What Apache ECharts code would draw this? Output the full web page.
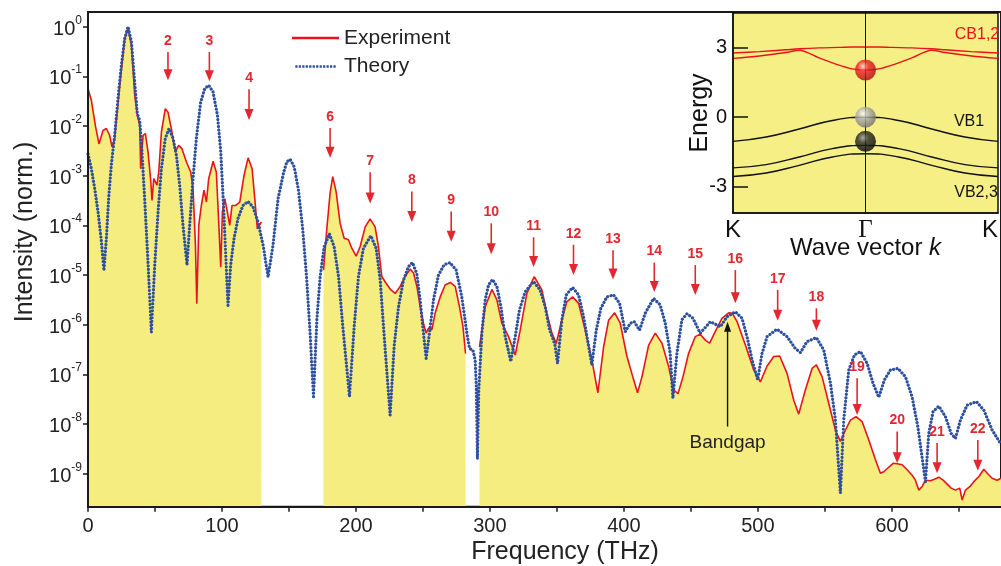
<!DOCTYPE html>
<html><head><meta charset="utf-8">
<script src="https://cdn.jsdelivr.net/npm/echarts@6/dist/echarts.min.js"></script>
<style>html,body{margin:0;padding:0;background:#fff}#c{width:1001px;height:566px}</style>
</head><body><div id="c"></div>
<script>
// ---------- DATA (frequency in THz, intensity as log10 of normalized intensity) ----------
const expSegA = [[0,-1.25],[2.5,-1.48],[5.5,-1.99],[8.2,-2.36],[11.2,-2.09],[13.7,-2.05],[16.2,-2.19],[17.9,-2.42],[19.9,-2.25],[23.7,-1.18],[27.4,-0.24],[29.9,-0.04],[32.4,-0.37],[34.9,-1.38],[36.8,-1.78],[38.6,-1.99],[39.3,-2.86],[41.1,-2.19],[42.8,-2.15],[44.8,-2.52],[46.8,-3.09],[47.8,-3.5],[49.1,-3.06],[51.5,-3.19],[52.8,-2.93],[54.8,-2.12],[57.7,-1.65],[59.7,-1.72],[62.2,-2.05],[65.2,-2.52],[67.7,-2.39],[70.2,-2.46],[73.4,-2.72],[76.7,-2.93],[78.4,-3.26],[80.2,-4.4],[81.2,-5.58],[82.7,-4.0],[84.6,-3.6],[86.6,-3.29],[88.4,-3.53],[90.1,-3.06],[93.4,-2.71],[95.8,-2.93],[97.8,-4.07],[99.1,-4.84],[100.3,-3.73],[102.1,-3.46],[104,-3.73],[105.8,-4.0],[107.5,-3.6],[110,-3.6],[113.3,-3.53],[116.5,-2.99],[119.5,-2.64],[122.5,-2.86],[124.5,-3.46],[126.4,-4.07],[127.9,-4.0],[129.4,-3.93]];
const expSegB = [[175.8,-4.9],[178.2,-4.09],[180.7,-3.35],[182.7,-3.02],[185.2,-3.32],[188.2,-3.96],[191.2,-4.26],[194.4,-4.29],[196.9,-4.46],[200.2,-4.62],[203.1,-4.43],[206.9,-4.03],[210.6,-3.87],[214.3,-4.03],[216.8,-4.43],[219.3,-5.03],[222.6,-5.17],[226.1,-5.3],[229.3,-5.37],[233,-5.23],[236.7,-5.03],[240.5,-4.88],[243,-4.96],[245.5,-5.23],[248,-5.64],[250.4,-5.97],[252.4,-6.17],[254.2,-6.07],[256.7,-6.1],[259.1,-5.77],[262.9,-5.44],[266.6,-5.2],[270.4,-5.15],[274.1,-5.23],[277.3,-5.64],[279.9,-6.04],[281.8,-6.58]];
const expSegC = [[292.2,-6.45],[296.5,-5.64],[301.5,-5.29],[305.2,-5.5],[308.9,-5.97],[313.9,-6.24],[318.9,-6.61],[322.6,-6.11],[327.6,-5.37],[333.1,-5.03],[338.8,-5.3],[342.5,-5.77],[346.3,-6.17],[349.5,-6.38],[353.7,-5.9],[357.4,-5.54],[361.7,-5.44],[366.2,-5.57],[371.1,-6.11],[376.1,-6.71],[380.6,-7.37],[384.9,-6.44],[388.6,-5.91],[393.1,-5.76],[397.3,-5.97],[402.3,-6.64],[407.3,-7.11],[410.2,-7.37],[413.5,-7.05],[418.5,-6.41],[423.4,-6.17],[428.4,-6.37],[433.4,-6.84],[437.1,-7.31],[440.4,-7.39],[444.1,-7.05],[448.3,-6.58],[453.3,-6.24],[457,-6.19],[460.8,-6.31],[464,-6.37],[468.2,-6.14],[473.2,-5.87],[478.2,-5.76],[481,-5.77],[484.5,-5.94],[490.7,-6.41],[496.9,-6.91],[501.9,-7.15],[506.9,-6.83],[511.9,-6.64],[516.3,-6.63],[521.8,-6.98],[526.8,-7.52],[530.5,-7.8],[535.5,-7.31],[540.5,-6.88],[543.7,-6.81],[548,-7.05],[552.9,-7.58],[557.9,-8.12],[561.6,-8.35],[565.4,-8.12],[569.1,-7.92],[573.3,-7.85],[577.8,-7.95],[582.8,-8.32],[587.8,-8.72],[591.5,-8.99],[594,-8.96],[597.7,-8.87],[601,-8.79],[604,-8.8],[607.7,-8.82],[611.4,-8.92],[615.2,-9.03],[617.6,-9.13],[620.1,-9.33],[622.6,-9.26],[625.1,-9.13],[628.8,-9.14],[631.8,-9.11],[635.1,-9.07],[638.3,-9.13],[641.3,-9.21],[644.3,-9.29],[647.5,-9.33],[650.7,-9.29],[652.5,-9.53],[655,-9.33],[658.2,-9.26],[661.2,-9.16],[664.9,-9.06],[668.7,-8.91],[671.2,-8.99],[674.9,-9.09],[678.6,-9.13],[681.6,-9.09]];
const theory = [[0,-2.56],[2.5,-2.86],[5,-3.26],[7.5,-3.73],[10,-4.33],[11.9,-4.91],[13.7,-4.27],[15.4,-3.46],[17.4,-2.79],[19.9,-2.19],[22.4,-1.45],[24.9,-0.78],[27.4,-0.24],[29.9,0],[32.4,-0.31],[34.8,-1.11],[36.8,-1.75],[38.6,-1.89],[40.3,-2.52],[42.3,-3.46],[44.8,-4.74],[47.3,-6.15],[49.8,-4.8],[52.3,-3.73],[54.8,-2.86],[57.7,-2.25],[60.5,-2.05],[63.5,-2.25],[66,-2.59],[68.4,-3.19],[70.9,-4.0],[73.9,-4.8],[75.9,-4.0],[78.4,-3.06],[80.9,-2.25],[84.1,-1.52],[87.1,-1.25],[90.1,-1.18],[93.3,-1.31],[96.6,-1.78],[99.1,-2.52],[100.8,-3.4],[102.5,-4.4],[104.5,-5.61],[106.5,-4.8],[109,-4.27],[112,-3.86],[115.7,-3.6],[119.5,-3.52],[123.2,-3.63],[126.9,-3.93],[130.7,-4.4],[134.4,-5.04],[138.1,-4.4],[141.9,-3.46],[145.9,-2.95],[148.4,-2.72],[150.9,-2.67],[153.9,-2.82],[157.1,-3.29],[160.3,-4.09],[163.3,-5.1],[165.8,-6.17],[168.3,-7.45],[170.8,-5.91],[173.3,-5.03],[176.3,-4.43],[180.2,-4.17],[183.7,-4.43],[187,-5.03],[190.2,-6.04],[195.2,-7.45],[198.7,-6.04],[201.9,-5.03],[205.6,-4.46],[211.1,-4.21],[215.1,-4.46],[218.1,-5.1],[221.1,-6.24],[225.5,-7.82],[228.5,-6.44],[231.8,-5.64],[235.5,-5.1],[239.2,-4.83],[242.2,-4.75],[245.4,-4.97],[247.9,-5.5],[250.4,-6.17],[252.4,-6.68],[254.9,-6.17],[257.9,-5.5],[261.6,-5.0],[265.9,-4.79],[270.3,-4.75],[274.8,-4.9],[279,-5.44],[282.8,-6.17],[284.8,-6.48],[287.3,-6.51],[289,-6.71],[289.8,-7.2],[290.7,-8.7],[291.7,-7.3],[294,-6.17],[296.5,-5.5],[299,-5.2],[302,-5.09],[305.2,-5.23],[308.2,-5.64],[311.4,-6.24],[315.6,-6.74],[318.9,-6.24],[322.1,-5.7],[326.3,-5.34],[332.6,-5.13],[337.5,-5.3],[341.3,-5.64],[344.5,-6.1],[347,-6.28],[348.5,-6.4],[350.5,-6.78],[353.7,-5.91],[357,-5.4],[361.7,-5.25],[366.2,-5.4],[369.9,-5.84],[372.9,-6.31],[376.1,-6.81],[379.4,-6.11],[382.8,-5.67],[387.3,-5.44],[392.3,-5.4],[396.8,-5.57],[401,-6.14],[404.8,-5.97],[407.7,-5.94],[411.7,-6.11],[415.9,-5.77],[422.2,-5.47],[427.1,-5.6],[430.9,-5.97],[434.6,-6.58],[436.6,-7.48],[439.6,-6.58],[443.3,-5.9],[447.1,-5.78],[451.6,-5.87],[457,-6.17],[464.5,-5.94],[472,-6.04],[477,-5.84],[483.2,-5.74],[488.2,-5.87],[491.9,-6.24],[495.7,-6.71],[499.9,-7.11],[503.1,-6.58],[506.9,-6.24],[514.3,-6.09],[521.8,-6.24],[528,-6.48],[531.8,-6.56],[536.7,-6.34],[543.7,-6.26],[549.2,-6.51],[554.2,-7.18],[557.9,-7.92],[561.6,-9.39],[564.1,-7.92],[567.9,-6.91],[572.1,-6.61],[576.6,-6.54],[581.6,-6.78],[586,-7.18],[590.3,-7.46],[594.5,-7.11],[599,-6.91],[604.7,-6.88],[610.2,-7.05],[615.1,-7.45],[619.4,-8.05],[625.1,-9.16],[627.6,-8.19],[630.8,-7.75],[635.1,-7.64],[640,-7.85],[644.3,-8.19],[647.5,-8.29],[651.2,-7.92],[656.2,-7.62],[663.2,-7.55],[668.7,-7.72],[674.9,-8.12],[681.1,-8.39]];
const expGaps = [130.5, 286];

// harmonic markers
const peakLabels = [2,3,4,6,7,8,9,10,11,12,13,14,15,16,17,18,19,20,21,22];
const peakFreq   = [59.7,90.6,120.2,180.7,210.6,241.7,271.1,301,332.6,362.4,391.9,422.7,453.3,483.2,514.8,543.7,574.1,604,633.8,664.2];
const arrowTop   = [-0.51,-0.51,-1.26,-2.04,-2.93,-3.32,-3.72,-3.96,-4.24,-4.39,-4.5,-4.75,-4.8,-4.9,-5.3,-5.67,-7.08,-8.15,-8.38,-8.32];
const arrowTip   = [-1.08,-1.10,-1.88,-2.64,-3.56,-3.93,-4.33,-4.58,-4.84,-5.0,-5.09,-5.34,-5.4,-5.57,-5.92,-6.12,-7.82,-8.79,-8.99,-8.94];
const bandgapMark = [477.4, -8.05, -5.94];

const xTicks = [0,50,100,150,200,250,300,350,400,450,500,550,600,650];
const xLabels = [0,100,200,300,400,500,600];
const yDecades = [-9,-8,-7,-6,-5,-4,-3,-2,-1,0];

// inset band structure
const bandK = [-1,-0.75,-0.5,-0.25,0,0.25,0.5,0.75,1];
const vb1 = [-1.04,-0.85,-0.51,-0.14,0,-0.14,-0.51,-0.85,-1.04];
const vb2 = [-2.18,-2.04,-1.71,-1.35,-1.21,-1.35,-1.71,-2.04,-2.18];
const vb3 = [-2.55,-2.4,-2.07,-1.71,-1.57,-1.71,-2.07,-2.4,-2.55];
const cbK = [-1,-0.8,-0.6,-0.5,-0.35,-0.2,-0.1,0,0.1,0.2,0.35,0.5,0.6,0.8,1];
const cbA = [2.76,2.82,2.9,2.94,2.98,3.0,3.02,3.02,3.02,3.0,2.98,2.94,2.9,2.82,2.76];
const cbB = [2.53,2.63,2.78,2.88,2.55,2.24,2.08,2.03,2.08,2.24,2.55,2.88,2.78,2.63,2.53];
const ballE = [2.03, 0, -1.04];
const insetTicks = [-3,0,3];

// ---------- CHART ----------
const FONT = "'Liberation Sans', Arial, sans-serif";
const RED = '#e8141c', ARED = '#e3262f', BLUE = '#2c4f9e', YEL = '#f5ed80', INK = '#222';
const chart = echarts.init(document.getElementById('c'));

const expData = [...expSegA, [expGaps[0], '-'], ...expSegB, [expGaps[1], '-'], ...expSegC];
const zip = (xs, ys) => xs.map((x, i) => [x, ys[i]]);

function ball(c0, c1, c2) {
  return {type:'radial', x:0.38, y:0.33, r:0.7, colorStops:[{offset:0,color:c0},{offset:0.35,color:c1},{offset:1,color:c2}]};
}
let dotPath = 'path://';
for (let i = 0; i < 12; i++) dotPath += 'M' + (i * 4) + ',0h2.6v3h-2.6z';

const option = {
  animation: false,
  textStyle: {fontFamily: FONT},
  legend: {
    data: [{name: 'Experiment', icon: 'rect'}, {name: 'Theory', icon: dotPath}],
    orient: 'vertical', left: 287, top: 22,
    itemWidth: 47, itemHeight: 2.6, itemGap: 6.5,
    textStyle: {fontSize: 21, color: INK, fontFamily: FONT, lineHeight: 22}
  },
  grid: [
    {left: 88, right: 0, top: 12, height: 494.7, show: true, borderColor: '#1a1a1a', borderWidth: 2, backgroundColor: 'transparent'},
    {left: 733, top: 13, width: 268, height: 200, show: true, backgroundColor: '#f6ef85', borderColor: '#111', borderWidth: 1.5}
  ],
  xAxis: [
    {type: 'value', gridIndex: 0, min: 0, max: 681.5, z: 10,
     axisLine: {onZero: false, lineStyle: {color: '#1a1a1a', width: 2}},
     axisTick: {customValues: xTicks, length: 5, lineStyle: {color: '#1a1a1a', width: 1.5}},
     axisLabel: {customValues: xLabels, fontSize: 20, color: INK, margin: 10, fontFamily: FONT},
     splitLine: {show: false}},
    {type: 'value', gridIndex: 1, min: -1, max: 1, z: 10,
     axisLine: {onZero: false, lineStyle: {color: '#111', width: 1.5}},
     axisTick: {show: false},
     axisLabel: {customValues: [-1, 0, 1], fontSize: 24, color: '#111', margin: 5, alignMaxLabel: 'right',
       formatter: v => v === 0 ? '{g|Γ}' : 'K', rich: {g: {fontFamily: "'Liberation Serif', 'DejaVu Serif', serif", fontSize: 25, color: '#111'}}},
     splitLine: {show: false},
     name: '{n|Wave vector }{i|k}', nameLocation: 'middle', nameGap: 23, nameMoveOverlap: false,
     nameTextStyle: {rich: {n: {fontSize: 24, color: '#111', fontFamily: FONT}, i: {fontSize: 24, color: '#111', fontStyle: 'italic', fontFamily: FONT}}}}
  ],
  yAxis: [
    {type: 'value', gridIndex: 0, min: -9.664, max: 0.296, z: 10,
     axisLine: {onZero: false, lineStyle: {color: '#1a1a1a', width: 2}},
     axisTick: {customValues: yDecades, length: 5, lineStyle: {color: '#1a1a1a', width: 1.5}},
     axisLabel: {customValues: yDecades, margin: 6,
       formatter: v => '{b|10}{s|' + Math.round(v) + '}',
       rich: {b: {fontSize: 20, color: INK, fontFamily: FONT, padding: [5, 0, 0, 0]}, s: {fontSize: 12, color: INK, fontFamily: FONT, verticalAlign: 'top'}}},
     splitLine: {show: false}},
    {type: 'value', gridIndex: 1, min: -4.12, max: 4.48, z: 10,
     axisLine: {onZero: false, lineStyle: {color: '#111', width: 1.5}},
     axisTick: {customValues: insetTicks, inside: true, length: 15, lineStyle: {color: '#111', width: 1.5}},
     axisLabel: {customValues: insetTicks, fontSize: 20, color: '#111', margin: 6, fontFamily: FONT},
     splitLine: {show: false},
     name: 'Energy', nameLocation: 'middle', nameGap: 20, nameRotate: 90, nameMoveOverlap: false,
     nameTextStyle: {fontSize: 25, color: '#111', fontFamily: FONT}}
  ],
  series: [
    {name: 'Experiment', type: 'line', xAxisIndex: 0, yAxisIndex: 0, data: expData, symbol: 'none', connectNulls: false,
     lineStyle: {color: RED, width: 1.6}, itemStyle: {color: RED},
     areaStyle: {color: YEL, opacity: 1, origin: 'start'}, z: 2},
    {name: 'Theory', type: 'line', xAxisIndex: 0, yAxisIndex: 0, data: theory, symbol: 'none',
     lineStyle: {color: BLUE, width: 3.2, type: [0.01, 3.5], cap: 'round'}, itemStyle: {color: BLUE}, z: 3},
    {type: 'custom', coordinateSystem: 'cartesian2d', xAxisIndex: 0, yAxisIndex: 0, z: 5, silent: true,
     data: peakLabels.map((n, i) => [peakFreq[i], arrowTop[i], arrowTip[i], n]),
     renderItem: (params, api) => {
       const a = api.coord([api.value(0), api.value(1)]);
       const b = api.coord([api.value(0), api.value(2)]);
       const x = a[0];
       return {type: 'group', children: [
         {type: 'line', shape: {x1: x, y1: a[1], x2: x, y2: b[1] - 8}, style: {stroke: ARED, lineWidth: 1.6}},
         {type: 'polygon', shape: {points: [[x - 4.5, b[1] - 11], [x + 4.5, b[1] - 11], [x, b[1]]]}, style: {fill: ARED}},
         {type: 'text', x: x, y: a[1] - 4, style: {text: String(api.value(3)), fill: ARED, font: "bold 14px 'Liberation Sans', Arial, sans-serif", align: 'center', verticalAlign: 'bottom'}}
       ]};
     }},
    {type: 'custom', coordinateSystem: 'cartesian2d', xAxisIndex: 0, yAxisIndex: 0, z: 5, silent: true,
     data: [bandgapMark],
     renderItem: (params, api) => {
       const a = api.coord([api.value(0), api.value(1)]);
       const b = api.coord([api.value(0), api.value(2)]);
       const x = a[0];
       return {type: 'group', children: [
         {type: 'line', shape: {x1: x, y1: a[1], x2: x, y2: b[1] + 8}, style: {stroke: '#111', lineWidth: 1.4}},
         {type: 'polygon', shape: {points: [[x - 3.5, b[1] + 10], [x + 3.5, b[1] + 10], [x, b[1]]]}, style: {fill: '#111'}},
         {type: 'text', x: x, y: a[1] + 16, style: {text: 'Bandgap', fill: INK, font: "19px 'Liberation Sans', Arial, sans-serif", align: 'center', verticalAlign: 'middle'}}
       ]};
     }},
    {type: 'line', xAxisIndex: 1, yAxisIndex: 1, data: zip(cbK, cbA), symbol: 'none', smooth: 0.3, lineStyle: {color: RED, width: 1.4}, z: 3,
     markLine: {silent: true, symbol: 'none', label: {show: false}, lineStyle: {color: '#111', width: 1, type: 'solid'}, data: [{xAxis: 0}]}},
    {type: 'line', xAxisIndex: 1, yAxisIndex: 1, data: zip(cbK, cbB), symbol: 'none', smooth: 0.3, lineStyle: {color: RED, width: 1.4}, z: 3},
    {type: 'line', xAxisIndex: 1, yAxisIndex: 1, data: zip(bandK, vb1), symbol: 'none', smooth: true, lineStyle: {color: '#111', width: 1.4}, z: 3},
    {type: 'line', xAxisIndex: 1, yAxisIndex: 1, data: zip(bandK, vb2), symbol: 'none', smooth: true, lineStyle: {color: '#111', width: 1.4}, z: 3},
    {type: 'line', xAxisIndex: 1, yAxisIndex: 1, data: zip(bandK, vb3), symbol: 'none', smooth: true, lineStyle: {color: '#111', width: 1.4}, z: 3},
    {type: 'scatter', xAxisIndex: 1, yAxisIndex: 1, symbolSize: 21, z: 6, silent: true,
     data: [
       {value: [0, ballE[0]], itemStyle: {color: ball('#ffd0d0', '#f0222a', '#a8060c')}},
       {value: [0, ballE[1]], itemStyle: {color: ball('#ffffff', '#b4b4b4', '#6a6a6a')}},
       {value: [0, ballE[2]], itemStyle: {color: ball('#9a9a9a', '#2a2a2a', '#000000')}}
     ]}
  ],
  graphic: [
    {type: 'text', x: 565, y: 552, z: 100, style: {text: 'Frequency (THz)', font: "25px 'Liberation Sans', Arial, sans-serif", fill: INK, align: 'center', verticalAlign: 'middle'}},
    {type: 'text', x: 25, y: 232, rotation: Math.PI / 2, z: 100, style: {text: 'Intensity (norm.)', font: "25px 'Liberation Sans', Arial, sans-serif", fill: INK, align: 'center', verticalAlign: 'middle'}},
    {type: 'text', x: 977, y: 35, z: 100, style: {text: 'CB1,2', font: "16px 'Liberation Sans', Arial, sans-serif", fill: RED, align: 'center', verticalAlign: 'middle'}},
    {type: 'text', x: 969, y: 122, z: 100, style: {text: 'VB1', font: "16px 'Liberation Sans', Arial, sans-serif", fill: '#111', align: 'center', verticalAlign: 'middle'}},
    {type: 'text', x: 976, y: 193, z: 100, style: {text: 'VB2,3', font: "16px 'Liberation Sans', Arial, sans-serif", fill: '#111', align: 'center', verticalAlign: 'middle'}}
  ]
};
chart.setOption(option);
</script>
</body></html>
